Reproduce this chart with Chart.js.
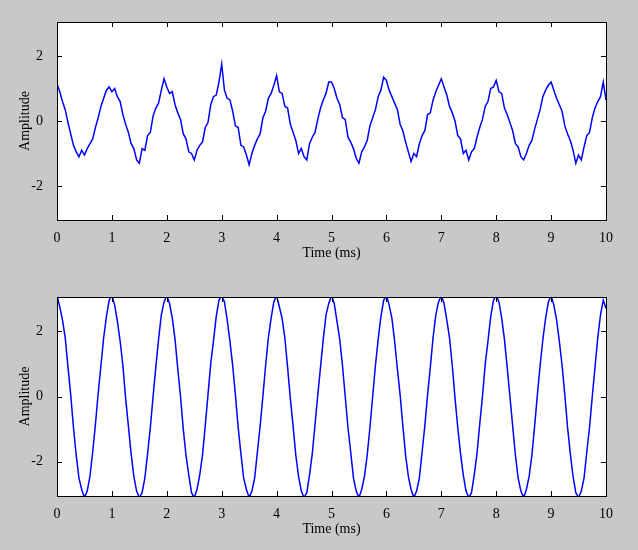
<!DOCTYPE html>
<html>
<head>
<meta charset="utf-8">
<script src="https://cdn.jsdelivr.net/npm/chart.js@4"></script>
<style>
  body { margin: 0; background: #c8c8c8; }
  .box { width: 638px; height: 275px; position: relative; }
</style>
</head>
<body>
<div class="box"><canvas id="topChart"></canvas></div>
<div class="box"><canvas id="bottomChart"></canvas></div>
<script>
// sample spacing 0.05 ms, 0..10 ms
const sampleStep = 0.05;
const xTicks = [0, 1, 2, 3, 4, 5, 6, 7, 8, 9, 10];
const yTicks = [-2, 0, 2];

const noisySignal = [
  1.15, 0.9, 0.6, 0.35, -0.05, -0.4, -0.75, -0.95, -1.1, -0.9, -1.05, -0.85, -0.7, -0.55, -0.2, 0.1, 0.45, 0.7, 0.95, 1.05,
  0.9, 1.0, 0.75, 0.6, 0.2, -0.1, -0.35, -0.7, -0.85, -1.2, -1.3, -0.85, -0.9, -0.45, -0.35, 0.15, 0.4, 0.55, 0.95, 1.3,
  1.05, 0.85, 0.9, 0.5, 0.25, 0.05, -0.4, -0.55, -0.95, -1.0, -1.2, -0.9, -0.75, -0.65, -0.2, -0.05, 0.5, 0.75, 0.8, 1.2,
  1.75, 0.95, 0.7, 0.65, 0.3, -0.15, -0.2, -0.75, -0.8, -1.05, -1.35, -1.0, -0.75, -0.55, -0.4, 0.1, 0.3, 0.7, 0.85, 1.1,
  1.4, 0.9, 0.85, 0.45, 0.4, -0.1, -0.35, -0.6, -1.0, -0.85, -1.1, -1.2, -0.7, -0.5, -0.35, 0.05, 0.4, 0.65, 0.85, 1.2,
  1.2, 1.0, 0.7, 0.5, 0.1, 0.05, -0.5, -0.65, -0.85, -1.15, -1.3, -0.95, -0.8, -0.6, -0.15, 0.1, 0.35, 0.75, 0.95, 1.35,
  1.25, 0.95, 0.75, 0.55, 0.35, -0.1, -0.3, -0.65, -0.95, -1.25, -1.0, -1.1, -0.7, -0.45, -0.3, 0.2, 0.25, 0.65, 0.9, 1.1,
  1.3, 1.05, 0.8, 0.45, 0.25, 0.0, -0.45, -0.55, -1.0, -0.9, -1.2, -0.95, -0.85, -0.5, -0.2, 0.05, 0.45, 0.6, 1.0, 1.05,
  1.25, 0.9, 0.85, 0.4, 0.2, -0.05, -0.3, -0.7, -0.8, -1.1, -1.2, -1.0, -0.75, -0.6, -0.25, 0.05, 0.35, 0.75, 0.95, 1.1,
  1.2, 0.95, 0.7, 0.5, 0.3, -0.15, -0.4, -0.6, -0.9, -1.3, -1.05, -1.2, -0.8, -0.45, -0.35, 0.1, 0.4, 0.6, 0.75, 1.2,
  0.65
];

const strongSignal = [
  3.1, 2.75, 2.35, 1.8, 0.9, 0.05, -0.95, -1.8, -2.5, -2.85, -3.1, -2.9, -2.45, -1.7, -0.85, 0.1, 0.95, 1.8, 2.45, 2.95,
  3.1, 2.8, 2.3, 1.7, 0.95, -0.05, -0.9, -1.75, -2.45, -2.9, -3.1, -2.95, -2.5, -1.75, -0.95, 0.0, 0.9, 1.75, 2.5, 2.9,
  3.1, 2.85, 2.4, 1.75, 0.85, 0.0, -1.0, -1.8, -2.4, -2.95, -3.1, -2.85, -2.4, -1.8, -0.9, 0.05, 1.0, 1.7, 2.45, 2.95,
  3.1, 2.9, 2.35, 1.7, 0.95, 0.05, -0.95, -1.75, -2.5, -2.85, -3.1, -2.9, -2.5, -1.7, -0.9, 0.0, 0.95, 1.8, 2.4, 2.9,
  3.1, 2.75, 2.4, 1.8, 0.9, -0.05, -0.9, -1.8, -2.45, -2.9, -3.1, -2.95, -2.4, -1.75, -0.85, 0.05, 0.9, 1.75, 2.5, 2.85,
  3.1, 2.85, 2.3, 1.75, 0.95, 0.0, -0.95, -1.7, -2.5, -2.9, -3.1, -2.85, -2.45, -1.8, -0.95, 0.0, 0.95, 1.75, 2.45, 2.95,
  3.1, 2.8, 2.4, 1.7, 0.85, 0.05, -0.9, -1.8, -2.45, -2.85, -3.1, -2.9, -2.5, -1.7, -0.9, 0.05, 0.9, 1.8, 2.5, 2.9,
  3.1, 2.85, 2.35, 1.8, 0.95, -0.05, -0.95, -1.75, -2.4, -2.9, -3.1, -2.95, -2.4, -1.75, -0.85, 0.0, 1.0, 1.7, 2.45, 2.95,
  3.1, 2.9, 2.4, 1.75, 0.9, 0.0, -0.9, -1.8, -2.5, -2.9, -3.1, -2.85, -2.45, -1.8, -0.9, 0.05, 0.95, 1.75, 2.4, 2.9,
  3.1, 2.8, 2.35, 1.7, 0.95, 0.05, -0.95, -1.75, -2.45, -2.95, -3.1, -2.9, -2.5, -1.7, -0.95, 0.0, 0.9, 1.8, 2.5, 2.95,
  2.7
];

const font = { family: 'Liberation Serif', size: 14 };

// white plot area, black frame and inward ticks on all four sides
const matlabAxes = {
  id: 'matlabAxes',
  beforeDatasetsDraw(chart) {
    const a = chart.chartArea, c = chart.ctx;
    c.save();
    c.fillStyle = '#fff';
    c.fillRect(a.left, a.top, a.right - a.left, a.bottom - a.top);
    c.restore();
  },
  afterDatasetsDraw(chart) {
    const a = chart.chartArea, c = chart.ctx;
    const xs = chart.scales.x, ys = chart.scales.y;
    c.save();
    c.strokeStyle = '#000';
    c.lineWidth = 1;
    c.strokeRect(a.left + 0.5, a.top + 0.5, a.right - a.left, a.bottom - a.top);
    c.beginPath();
    xTicks.forEach(v => {
      const px = Math.round(xs.getPixelForValue(v)) + 0.5;
      c.moveTo(px, a.bottom); c.lineTo(px, a.bottom - 5);
      c.moveTo(px, a.top); c.lineTo(px, a.top + 5);
    });
    yTicks.forEach(v => {
      const py = Math.round(ys.getPixelForValue(v)) + 0.5;
      c.moveTo(a.left, py); c.lineTo(a.left + 5, py);
      c.moveTo(a.right, py); c.lineTo(a.right - 5, py);
    });
    c.stroke();
    c.restore();
  }
};

function makeChart(id, values, bottomPad) {
  const points = values.map((v, i) => ({ x: +(i * sampleStep).toFixed(2), y: v }));
  return new Chart(document.getElementById(id), {
    type: 'line',
    data: {
      datasets: [{
        data: points,
        borderColor: '#0000ff',
        borderWidth: 1.5,
        pointRadius: 0,
        tension: 0
      }]
    },
    options: {
      responsive: true,
      maintainAspectRatio: false,
      animation: false,
      layout: { padding: { top: 22, right: 32, left: 17, bottom: bottomPad } },
      scales: {
        x: {
          type: 'linear', min: 0, max: 10,
          afterBuildTicks: s => { s.ticks = xTicks.map(v => ({ value: v })); },
          afterFit: s => { s.height = 42; },
          grid: { display: false },
          border: { display: false },
          ticks: { color: '#000', font, padding: 2, maxRotation: 0 },
          title: { display: true, text: 'Time (ms)', color: '#000', font, padding: 0 }
        },
        y: {
          type: 'linear', min: -3.05, max: 3.05,
          afterBuildTicks: s => { s.ticks = yTicks.map(v => ({ value: v })); },
          afterFit: s => { s.width = 40; },
          grid: { display: false },
          border: { display: false },
          ticks: { color: '#000', font, padding: 6 },
          title: { display: true, text: 'Amplitude', color: '#000', font, padding: 0 }
        }
      },
      plugins: { legend: { display: false }, tooltip: { enabled: false } }
    },
    plugins: [matlabAxes]
  });
}

makeChart('topChart', noisySignal, 13);
makeChart('bottomChart', strongSignal, 12);
</script>
</body>
</html>
